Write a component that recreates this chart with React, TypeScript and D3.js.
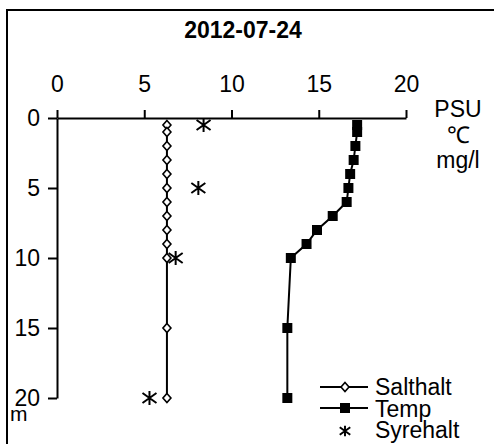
import { useEffect, useRef } from 'react';
import * as d3 from "d3";

// depth profile, 2012-07-24
const depths = [0.5, 1, 2, 3, 4, 5, 6, 7, 8, 9, 10, 15, 20];
const salinity = [6.3, 6.3, 6.3, 6.3, 6.3, 6.3, 6.3, 6.3, 6.3, 6.3, 6.3, 6.3, 6.3];
const temperature = [17.2, 17.2, 17.1, 17.0, 16.8, 16.7, 16.6, 15.8, 14.9, 14.3, 13.4, 13.2, 13.2];
const oxygenDepths = [0.5, 5, 10, 20];
const oxygen = [8.4, 8.1, 6.8, 5.3];

const xTicks = [0, 5, 10, 15, 20];
const yTicks = [0, 5, 10, 15, 20];
const unitLabels = ["PSU", "℃", "mg/l"];
const legendLabels = ["Salthalt", "Temp", "Syrehalt"];

const FONT = "'Liberation Sans', Arial, sans-serif";
const diamond = "M0,-4.5L4,0L0,4.5L-4,0Z";
const square = "M-5,-5H5V5H-5Z";
const asterisk = "M0,-7V7M-7,-5L7,5M-7,5L7,-5";

export default function App() {
  const ref = useRef<SVGSVGElement>(null);

  useEffect(() => {
    if (!ref.current) return;
    const svg = d3.select(ref.current);
    svg.selectAll("*").remove();

    const width = 494;
    const height = 444;

    const x = d3.scaleLinear().domain([0, 20]).range([57, 406]);
    const y = d3.scaleLinear().domain([0, 20]).range([118, 398]);

    svg.attr("width", width).attr("height", height)
      .style("font-family", FONT);

    svg.append("rect")
      .attr("width", width).attr("height", height).attr("fill", "white");

    // frame
    svg.append("rect")
      .attr("x", 7).attr("y", 10)
      .attr("width", 500).attr("height", 450)
      .attr("fill", "none").attr("stroke", "black").attr("stroke-width", 2);

    // title
    svg.append("text")
      .attr("x", 243).attr("y", 38)
      .attr("text-anchor", "middle")
      .attr("font-weight", "bold")
      .attr("font-size", 23)
      .text("2012-07-24");

    // top axis
    const xAxis = svg.append("g")
      .attr("transform", `translate(0,${y(0)})`)
      .call(d3.axisTop(x).tickValues(xTicks).tickSize(8).tickPadding(18).tickSizeOuter(0));
    xAxis.select(".domain").attr("stroke-width", 2);
    xAxis.selectAll(".tick line").attr("stroke-width", 2);
    xAxis.selectAll("text").attr("font-size", 23).attr("font-family", FONT).attr("fill", "black");

    // left axis (depth)
    const yAxis = svg.append("g")
      .attr("transform", `translate(${x(0)},0)`)
      .call(d3.axisLeft(y).tickValues(yTicks).tickSize(9).tickPadding(8).tickSizeOuter(0));
    yAxis.select(".domain").attr("stroke-width", 2);
    yAxis.selectAll(".tick line").attr("stroke-width", 2);
    yAxis.selectAll("text").attr("font-size", 23).attr("font-family", FONT).attr("fill", "black");

    svg.append("text")
      .attr("x", 10).attr("y", 421)
      .attr("font-size", 21)
      .text("m");

    // units at right
    svg.append("g").selectAll("text")
      .data(unitLabels)
      .join("text")
      .attr("x", 458)
      .attr("y", (_, i) => 117 + i * 25.5)
      .attr("text-anchor", "middle")
      .attr("font-size", 23)
      .text(d => d);

    const line = d3.line<[number, number]>().x(d => x(d[0])).y(d => y(d[1]));

    // salinity
    const saltPts = depths.map((d, i) => [salinity[i], d] as [number, number]);
    svg.append("path")
      .attr("d", line(saltPts))
      .attr("fill", "none").attr("stroke", "black").attr("stroke-width", 2);
    svg.append("g").selectAll("path")
      .data(saltPts)
      .join("path")
      .attr("d", diamond)
      .attr("transform", d => `translate(${x(d[0])},${y(d[1])})`)
      .attr("fill", "white").attr("stroke", "black").attr("stroke-width", 1.6);

    // temperature
    const tempPts = depths.map((d, i) => [temperature[i], d] as [number, number]);
    svg.append("path")
      .attr("d", line(tempPts))
      .attr("fill", "none").attr("stroke", "black").attr("stroke-width", 2);
    svg.append("g").selectAll("path")
      .data(tempPts)
      .join("path")
      .attr("d", square)
      .attr("transform", d => `translate(${x(d[0])},${y(d[1])})`)
      .attr("fill", "black");

    // oxygen
    svg.append("g").selectAll("path")
      .data(oxygenDepths.map((d, i) => [oxygen[i], d] as [number, number]))
      .join("path")
      .attr("d", asterisk)
      .attr("transform", d => `translate(${x(d[0])},${y(d[1])})`)
      .attr("fill", "none").attr("stroke", "black").attr("stroke-width", 2);

    // legend
    const legend = svg.append("g");
    const rows = [387, 408, 431];
    legend.append("line").attr("x1", 320).attr("x2", 368).attr("y1", rows[0]).attr("y2", rows[0])
      .attr("stroke", "black").attr("stroke-width", 2);
    legend.append("path").attr("d", diamond).attr("transform", `translate(345,${rows[0]})`)
      .attr("fill", "white").attr("stroke", "black").attr("stroke-width", 1.6);
    legend.append("line").attr("x1", 320).attr("x2", 368).attr("y1", rows[1]).attr("y2", rows[1])
      .attr("stroke", "black").attr("stroke-width", 2);
    legend.append("path").attr("d", square).attr("transform", `translate(345,${rows[1]})`)
      .attr("fill", "black");
    legend.append("path").attr("d", asterisk).attr("transform", `translate(345,${rows[2]}) scale(0.75)`)
      .attr("fill", "none").attr("stroke", "black").attr("stroke-width", 2.6);
    legend.selectAll("text")
      .data(legendLabels)
      .join("text")
      .attr("x", 375)
      .attr("y", (_, i) => 395 + i * 21.5)
      .attr("font-size", 23)
      .text(d => d);
  }, []);

  return (
    <svg ref={ref} style={{ position: "absolute", left: 0, top: 0 }}></svg>
  );
}
